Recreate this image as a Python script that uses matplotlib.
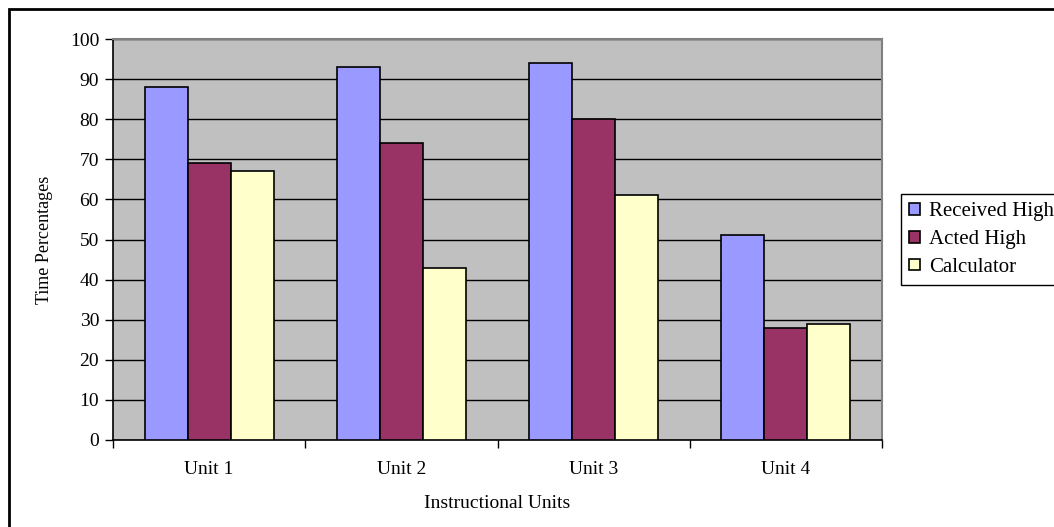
import numpy as np
import matplotlib.pyplot as plt
from matplotlib.patches import Rectangle

units = ["Unit 1", "Unit 2", "Unit 3", "Unit 4"]
received_high = [88, 93, 94, 51]
acted_high = [69, 74, 80, 28]
calculator = [67, 43, 61, 29]

series = [("Received High", received_high, "#9999FF"),
          ("Acted High", acted_high, "#993366"),
          ("Calculator", calculator, "#FFFFCC")]

plt.rcParams["font.family"] = ["Liberation Serif", "DejaVu Serif"]

fig = plt.figure(figsize=(10.54, 5.27), dpi=100)
ax = fig.add_axes([113 / 1054, 1 - 440 / 527, 769 / 1054, 401 / 527])
ax.set_facecolor("#C0C0C0")

x = np.arange(len(units))
width = 0.224
for i, (name, vals, color) in enumerate(series):
    ax.bar(x + (i - 1) * width, vals, width, color=color, edgecolor="black",
           linewidth=1.2, label=name, zorder=3)

ax.set_xlim(-0.5, len(units) - 0.5)
ax.set_ylim(0, 100)
ax.set_yticks(np.arange(0, 101, 10))
ax.yaxis.grid(True, color="black", linewidth=1.0, zorder=1)
ax.set_axisbelow(True)

# category ticks sit between groups, labels centred under each group
ax.set_xticks(np.arange(-0.5, len(units), 1.0))
ax.set_xticklabels([])
ax.set_xticks(x, minor=True)
ax.set_xticklabels(units, minor=True)
ax.tick_params(axis="x", which="minor", length=0, pad=15, labelsize=14)
ax.tick_params(axis="x", which="major", length=6, width=1, direction="out")
ax.tick_params(axis="y", length=6, width=1, direction="out", labelsize=14, pad=4)

for side in ("top", "right"):
    ax.spines[side].set_color("#808080")
    ax.spines[side].set_linewidth(1.5)
for side in ("left", "bottom"):
    ax.spines[side].set_color("black")
    ax.spines[side].set_linewidth(1.2)

ax.set_ylabel("Time Percentages", fontsize=13)
ax.yaxis.set_label_coords(-0.078, 0.5)
ax.set_xlabel("Instructional Units", fontsize=14)
ax.xaxis.set_label_coords(0.5, -0.137)

fig.legend(loc="upper left", bbox_to_anchor=(901 / 1054, 1 - 194 / 527),
           borderaxespad=0, frameon=True, fancybox=False, edgecolor="black",
           framealpha=1, fontsize=15, handlelength=0.5, handleheight=0.5,
           handletextpad=0.45, labelspacing=0.42, borderpad=0.4)

# outer chart border
fig.patches.append(Rectangle((9 / 1054, -0.05), 1.2, 1 - 9 / 527 + 0.05,
                             transform=fig.transFigure, fill=False,
                             edgecolor="black", linewidth=2))

fig.savefig("out.png", dpi=100)
